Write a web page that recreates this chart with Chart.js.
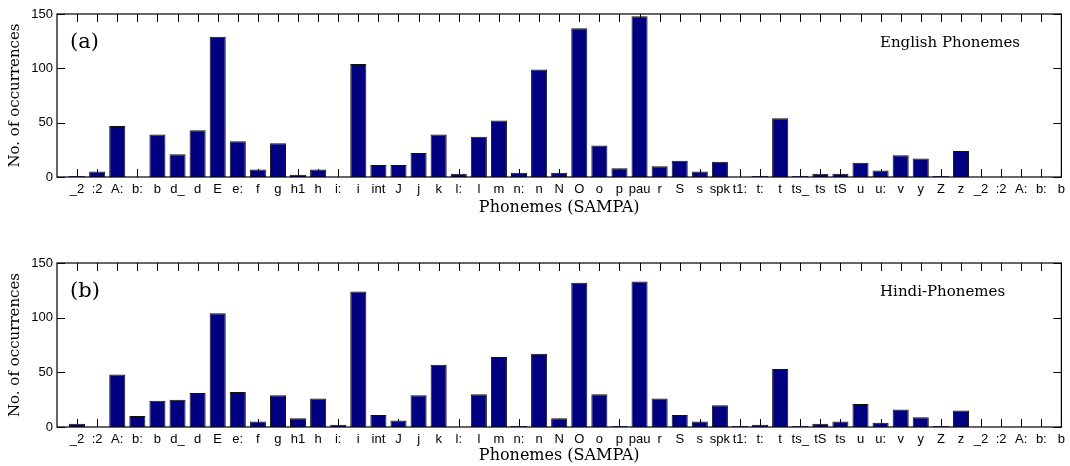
<!DOCTYPE html>
<html>
<head>
<meta charset="utf-8">
<script src="https://cdn.jsdelivr.net/npm/chart.js@4"></script>
<style>
  html, body { margin: 0; padding: 0; background: #fff; }
  .panel { position: relative; width: 1070px; height: 233px; }
</style>
</head>
<body>
<div class="panel"><canvas id="chartA"></canvas></div>
<div class="panel"><canvas id="chartB"></canvas></div>
<script>
// phoneme labels (SAMPA) for each panel
const englishLabels = ["_2", ":2", "A:", "b:", "b", "d_", "d", "E", "e:", "f", "g", "h1", "h", "i:", "i",
  "int", "J", "j", "k", "l:", "l", "m", "n:", "n", "N", "O", "o", "p", "pau", "r", "S", "s", "spk",
  "t1:", "t:", "t", "ts_", "ts", "tS", "u", "u:", "v", "y", "Z", "z", "_2", ":2", "A:", "b:", "b"];
const hindiLabels = ["_2", ":2", "A:", "b:", "b", "d_", "d", "E", "e:", "f", "g", "h1", "h", "i:", "i",
  "int", "J", "j", "k", "l:", "l", "m", "n:", "n", "N", "O", "o", "p", "pau", "r", "S", "s", "spk",
  "t1:", "t:", "t", "ts_", "tS", "ts", "u", "u:", "v", "y", "Z", "z", "_2", ":2", "A:", "b:", "b"];

const englishCounts = [1, 5, 47, 0, 39, 21, 43, 129, 33, 7, 31, 2, 7, 0, 104,
  11, 11, 22, 39, 3, 37, 52, 4, 99, 4, 137, 29, 8, 148, 10, 15, 5, 14,
  0, 1, 54, 1, 3, 3, 13, 6, 20, 17, 1, 24, 0, 0, 0, 0, 0];
const hindiCounts = [3, 0, 48, 10, 24, 25, 31, 104, 32, 5, 29, 8, 26, 2, 124,
  11, 6, 29, 57, 0, 30, 64, 1, 67, 8, 132, 30, 1, 133, 26, 11, 5, 20,
  1, 2, 53, 1, 3, 5, 21, 4, 16, 9, 1, 15, 0, 0, 0, 0, 0];

const yTicks = [0, 50, 100, 150];

const barColor = "#000080";
const tickFont = { family: "'Liberation Sans', Arial, sans-serif", size: 13 };
const serifFont = "'DejaVu Serif', 'Liberation Serif', serif";

// box frame + inward tick marks, like the matlab axes
const framePlugin = {
  id: "frame",
  beforeDatasetsDraw(chart) {
    const { ctx, chartArea: a, scales } = chart;
    const tl = 8;
    ctx.save();
    ctx.strokeStyle = "#000";
    ctx.lineWidth = 1;
    ctx.beginPath();
    for (let i = 1; i <= 50; i++) {
      const x = Math.round(scales.x.getPixelForValue(i)) + 0.5;
      ctx.moveTo(x, a.bottom); ctx.lineTo(x, a.bottom - tl);
      ctx.moveTo(x, a.top); ctx.lineTo(x, a.top + tl);
    }
    yTicks.forEach(v => {
      const y = Math.round(scales.y.getPixelForValue(v)) + 0.5;
      ctx.moveTo(a.left, y); ctx.lineTo(a.left + tl, y);
      ctx.moveTo(a.right, y); ctx.lineTo(a.right - tl, y);
    });
    ctx.stroke();
    ctx.restore();
  },
  afterDatasetsDraw(chart) {
    const { ctx, chartArea: a } = chart;
    const o = chart.options.plugins.frame;
    ctx.save();
    ctx.strokeStyle = "#000";
    ctx.lineWidth = 1.2;
    ctx.strokeRect(a.left, a.top, a.right - a.left, a.bottom - a.top);
    ctx.fillStyle = "#000";
    ctx.textBaseline = "middle";
    ctx.font = "21px " + serifFont;
    ctx.fillText(o.tag, a.left + 13, a.top + 29);
    ctx.font = "15px " + serifFont;
    ctx.fillText(o.note, 880, a.top + 29);
    ctx.restore();
  }
};

function makeChart(id, labels, counts, tag, note, padTop, xHeight, titlePad) {
  return new Chart(document.getElementById(id), {
    type: "bar",
    data: {
      datasets: [{
        data: counts.map((v, i) => ({ x: i + 1, y: v })),
        backgroundColor: barColor,
        borderColor: "#111",
        borderWidth: 1,
        barPercentage: 0.8,
        categoryPercentage: 1
      }]
    },
    options: {
      responsive: true,
      maintainAspectRatio: false,
      animation: false,
      layout: { padding: { top: padTop, right: 4, bottom: 0, left: 0 } },
      plugins: {
        legend: { display: false },
        tooltip: { enabled: false },
        frame: { tag: tag, note: note }
      },
      scales: {
        x: {
          type: "linear",
          min: 0,
          max: 50,
          offset: false,
          grid: { display: false, drawTicks: false },
          border: { display: false },
          afterBuildTicks: s => { s.ticks = labels.map((_, i) => ({ value: i + 1 })); },
          afterFit: s => { s.height = xHeight; },
          ticks: {
            autoSkip: false,
            maxRotation: 0,
            minRotation: 0,
            padding: 5,
            color: "#000",
            font: tickFont,
            callback: v => labels[v - 1] || ""
          },
          title: {
            display: true,
            text: "Phonemes (SAMPA)",
            color: "#000",
            font: { family: serifFont, size: 16 },
            padding: { top: 0, bottom: titlePad }
          }
        },
        y: {
          min: 0,
          max: 150,
          grid: { display: false, drawTicks: false },
          border: { display: false },
          afterBuildTicks: s => { s.ticks = yTicks.map(v => ({ value: v })); },
          afterFit: s => { s.width = 57; },
          ticks: { padding: 4, color: "#000", font: tickFont },
          title: {
            display: true,
            text: "No. of occurrences",
            color: "#000",
            font: { family: serifFont, size: 15 },
            padding: { top: 6, bottom: 0 }
          }
        }
      }
    },
    plugins: [framePlugin]
  });
}

makeChart("chartA", englishLabels, englishCounts, "(a)", "English Phonemes", 14, 56, 16);
makeChart("chartB", hindiLabels, hindiCounts, "(b)", "Hindi-Phonemes", 30, 39, 1);
</script>
</body>
</html>
